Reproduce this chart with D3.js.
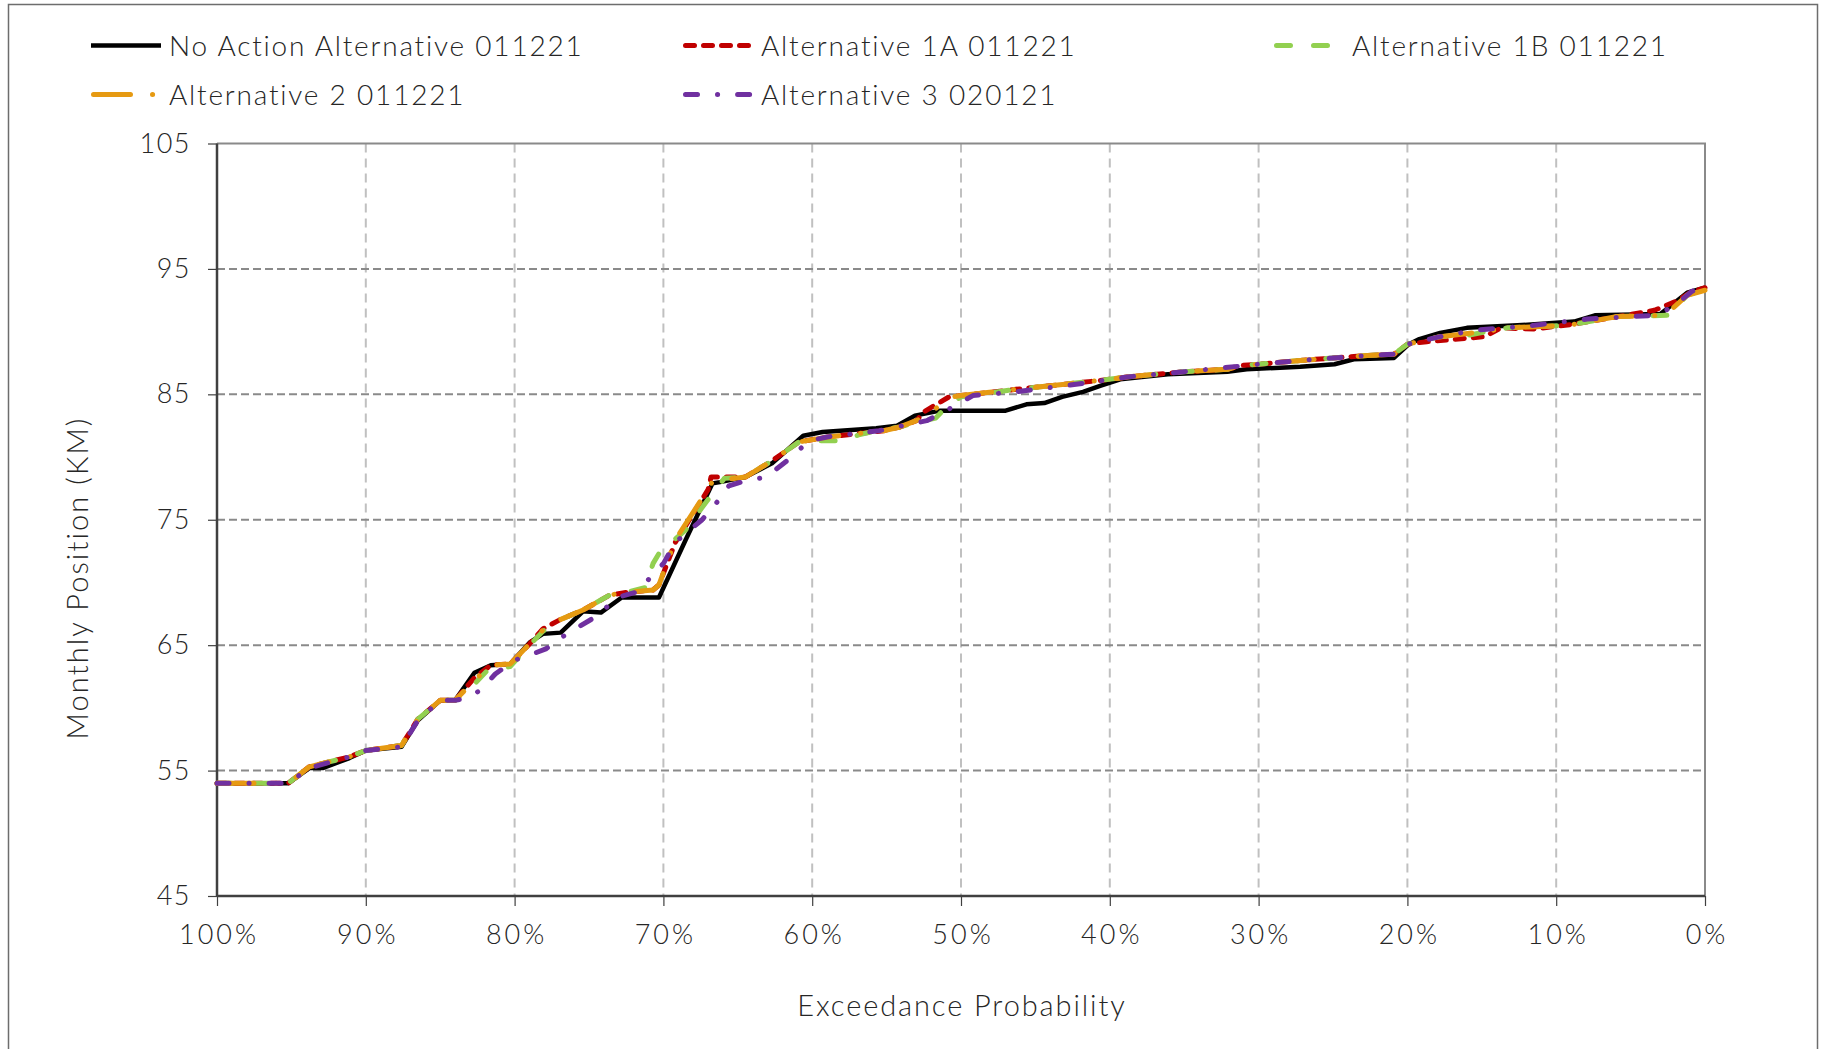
<!DOCTYPE html>
<html>
<head>
<meta charset="utf-8">
<script src="https://cdn.jsdelivr.net/npm/d3@7"></script>
<style>
  body { margin: 0; background: #fff; }
  svg text { font-family: Lato, "Noto Sans", sans-serif; font-weight: 300; fill: #262626; }
</style>
</head>
<body>
<svg id="chart" width="1830" height="1049"></svg>
<script>
// exceedance probability (%) and monthly position (km)
const noActionP = [100,95.2,93.8,92.9,91.1,90,87.6,86.5,85.0,84.0,82.7,81.6,80.3,79.0,78.1,76.9,75.4,74.2,72.8,70.3,68.5,66.7,66.2,64.5,62.7,60.6,59.3,55.7,54.3,53.1,51.4,47.0,45.6,44.4,43.2,41.8,40.6,39.3,36.1,32.1,30.8,27.2,24.9,23.6,20.9,19.9,19.2,17.8,16.0,12.6,8.8,7.4,3.0,1.2,0];
const noActionV = [54.0,54.0,55.2,55.2,56.0,56.6,56.9,59.0,60.6,60.6,62.8,63.4,63.5,65.2,65.9,66.0,67.7,67.6,68.8,68.8,73.4,77.9,78.0,78.4,79.5,81.7,82.0,82.3,82.5,83.3,83.7,83.7,84.2,84.3,84.8,85.2,85.7,86.2,86.6,86.8,87.0,87.2,87.4,87.8,87.9,89.0,89.4,89.9,90.3,90.5,90.8,91.3,91.4,93.1,93.5];

const alt1aP = [100,95.2,93.8,91.1,90,87.6,86.5,85.0,84.0,82.7,81.6,80.3,79.0,78.1,77.0,75.4,73.6,72.5,70.7,70.3,69.2,67.0,66.8,64.5,62.7,60.9,58.9,55.2,54.1,53.0,52.5,50.8,50.0,46.3,40.7,38.7,35.0,32.1,31.2,30.0,27.2,22.7,20.9,20.0,18.7,14.8,13.7,11.5,8.8,3.4,1.8,0.9,0];
const alt1aV = [54.0,54.0,55.3,56.1,56.6,57.0,59.1,60.6,60.6,62.4,63.4,63.5,65.1,66.3,67.0,67.8,69.0,69.2,69.4,69.8,73.2,77.4,78.4,78.4,79.7,81.2,81.6,82.1,82.4,82.9,83.6,84.8,84.9,85.4,86.1,86.4,86.8,87.0,87.3,87.4,87.7,88.1,88.2,89.0,89.2,89.6,90.3,90.2,90.6,91.7,92.5,93.2,93.5];

const alt1bP = [100,95.2,93.8,91.1,90,87.6,86.5,85.0,84.0,82.7,81.9,80.3,79.0,78.1,77.0,75.4,73.6,72.5,71.2,70.7,70.3,68.5,67.2,65.9,64.5,62.7,60.9,59.3,57.9,56.8,55.7,54.1,53.0,51.7,51.0,50.0,46.3,40.7,38.7,35.0,32.1,31.2,30.0,27.2,22.7,20.9,20.0,17.8,16.0,13.3,9.2,5.9,2.5,1.2,0];
const alt1bV = [54.0,54.0,55.3,56.1,56.6,57.0,59.1,60.6,60.6,61.9,62.9,63.3,65.0,66.1,67.0,67.8,69.0,69.2,69.6,71.5,72.3,74.2,76.3,78.3,78.4,79.7,81.2,81.3,81.3,81.8,82.1,82.4,82.8,83.1,84.0,84.8,85.4,86.1,86.4,86.8,87.0,87.3,87.4,87.7,88.1,88.2,89.0,89.6,89.7,90.3,90.5,91.2,91.3,92.9,93.4];

const alt2P = [100,95.2,93.8,91.1,90,87.6,86.5,85.0,84.0,82.7,81.6,80.3,79.0,78.1,77.0,75.4,73.6,72.5,70.7,70.3,69.2,66.9,66.7,64.5,62.7,60.9,58.9,55.2,54.1,53.0,51.9,50.6,50.0,46.3,40.7,38.7,35.0,32.1,31.2,30.0,27.2,22.7,20.9,20.0,17.8,14.8,13.3,9.2,5.9,2.7,1.2,0];
const alt2V = [54.0,54.0,55.3,56.1,56.6,57.0,59.1,60.6,60.6,62.2,63.4,63.5,65.1,66.2,67.0,67.8,69.0,69.2,69.4,69.8,73.4,77.6,78.1,78.4,79.7,81.2,81.6,82.1,82.4,82.9,83.7,84.8,84.9,85.4,86.1,86.4,86.8,87.0,87.3,87.4,87.7,88.1,88.2,89.0,89.6,90.0,90.3,90.5,91.2,91.3,92.9,93.3];

const alt3P = [100,95.2,93.8,91.1,90,87.6,86.5,85.0,84.0,83.2,82.3,81.3,80.0,79.0,77.9,76.5,74.5,73.1,71.6,70.7,70.0,69.2,68.1,67.4,66.4,65.6,64.5,63.1,61.8,60.2,59.0,55.5,54.3,52.3,51.0,50.1,49.2,46.3,42.9,38.7,35.0,30.0,27.2,22.7,20.9,20.0,17.8,15.5,11.5,7.9,3.4,2.1,0.9,0];
const alt3V = [54.0,54.0,55.2,56.1,56.6,56.9,59.0,60.6,60.6,60.8,61.4,62.7,63.8,64.2,64.7,65.9,67.3,68.8,69.3,70.7,71.5,73.2,74.3,75.0,76.4,77.7,78.1,78.4,79.6,81.3,81.6,82.1,82.4,82.9,83.7,84.3,84.9,85.2,85.7,86.4,86.8,87.4,87.7,88.1,88.2,89.0,89.6,90.1,90.5,91.0,91.3,92.0,93.2,93.7];

const seriesNames = ["No Action Alternative 011221", "Alternative 1A 011221", "Alternative 1B 011221", "Alternative 2 011221", "Alternative 3 020121"];
const seriesColors = ["#000000", "#c00000", "#92d050", "#e69a12", "#7030a0"];
const seriesDash = [null, "9,9", "14,23", "37,22,0.1,22", "12,20,0.1,20"];
const seriesP = [noActionP, alt1aP, alt1bP, alt2P, alt3P];
const seriesV = [noActionV, alt1aV, alt1bV, alt2V, alt3V];

const yTicks = [45, 55, 65, 75, 85, 95, 105];
const xTicks = [100, 90, 80, 70, 60, 50, 40, 30, 20, 10, 0];

const svg = d3.select('#chart');
const plotLeft = 217, plotRight = 1705, plotTop = 143.5, plotBottom = 896;

const x = d3.scaleLinear().domain([100, 0]).range([plotLeft, plotRight]);
const y = d3.scaleLinear().domain([45, 105]).range([plotBottom, plotTop]);

// outer frame
svg.append('rect')
    .attr('x', 8.5).attr('y', 4.5)
    .attr('width', 1809).attr('height', 1060)
    .attr('fill', 'none')
    .attr('stroke', '#6d6d6d')
    .attr('stroke-width', 1.5);

// gridlines
svg.append('g').selectAll('line')
    .data(xTicks.filter(d => d !== 100 && d !== 0))
    .enter().append('line')
    .attr('x1', d => x(d)).attr('x2', d => x(d))
    .attr('y1', plotTop).attr('y2', plotBottom)
    .attr('stroke', '#c0c0c0')
    .attr('stroke-width', 2)
    .attr('stroke-dasharray', '9,6');
svg.append('g').selectAll('line')
    .data(yTicks.filter(d => d !== 45 && d !== 105))
    .enter().append('line')
    .attr('x1', plotLeft).attr('x2', plotRight)
    .attr('y1', d => y(d)).attr('y2', d => y(d))
    .attr('stroke', '#8a8a8a')
    .attr('stroke-width', 2)
    .attr('stroke-dasharray', '8,4');

// top and right border of plot area
svg.append('path')
    .attr('d', `M${plotLeft},${plotTop}H${plotRight}V${plotBottom}`)
    .attr('fill', 'none')
    .attr('stroke', '#8a8a8a')
    .attr('stroke-width', 2);

// axes
const yAxis = svg.append('g')
    .attr('transform', `translate(${plotLeft},0)`)
    .call(d3.axisLeft(y).tickValues(yTicks).tickSize(9).tickPadding(17).tickFormat(d3.format('d')));
const xAxis = svg.append('g')
    .attr('transform', `translate(0,${plotBottom})`)
    .call(d3.axisBottom(x).tickValues(xTicks).tickSize(10).tickPadding(19).tickFormat(d => d + '%'));
[yAxis, xAxis].forEach(ax => {
    ax.select('.domain').attr('stroke', '#404040').attr('stroke-width', 2.5);
    ax.selectAll('.tick line').attr('stroke', '#404040').attr('stroke-width', 1.2);
    ax.selectAll('.tick text').attr('font-size', 27).attr('font-family', null).style('fill', '#262626');
});
yAxis.selectAll('.tick text').style('letter-spacing', '1.5px');
xAxis.selectAll('.tick text').style('letter-spacing', '3px').attr('dx', 1.5);
yAxis.select('.domain').attr('d', `M0,${plotBottom + 1}V${plotTop}`);
xAxis.select('.domain').attr('d', `M${plotLeft},0H${plotRight}`);

// series lines
const line = d3.line().x(d => x(d[0])).y(d => y(d[1]));
seriesNames.forEach((name, i) => {
    const pts = seriesP[i].map((p, j) => [p, seriesV[i][j]]);
    svg.append('path')
        .datum(pts)
        .attr('d', line)
        .attr('fill', 'none')
        .attr('stroke', seriesColors[i])
        .attr('stroke-width', i === 0 ? 4.5 : 5)
        .attr('stroke-linecap', i === 0 ? 'butt' : 'round')
        .attr('stroke-linejoin', 'round')
        .attr('stroke-dasharray', seriesDash[i]);
});

// legend
const legendPos = [[91, 45.5], [683, 45.5], [1274, 45.5], [91, 94.5], [683, 94.5]];
seriesNames.forEach((name, i) => {
    const [lx, ly] = legendPos[i];
    svg.append('line')
        .attr('x1', lx + (i === 0 ? 0 : 2.5)).attr('x2', lx + 70)
        .attr('y1', ly).attr('y2', ly)
        .attr('stroke', seriesColors[i])
        .attr('stroke-width', i === 0 ? 4.5 : 5)
        .attr('stroke-linecap', i === 0 ? 'butt' : 'round')
        .attr('stroke-dasharray', seriesDash[i]);
    svg.append('text')
        .attr('x', lx + 78).attr('y', ly)
        .attr('dy', '0.36em')
        .attr('font-size', 28)
        .style('letter-spacing', '1.8px')
        .text(name);
});

// axis titles
svg.append('text')
    .attr('x', (plotLeft + plotRight) / 2 + 1).attr('y', 1006)
    .attr('dy', '0.36em')
    .attr('text-anchor', 'middle')
    .attr('font-size', 29)
    .style('letter-spacing', '1.9px')
    .text('Exceedance Probability');
svg.append('text')
    .attr('transform', 'translate(78,578) rotate(-90)')
    .attr('dy', '0.36em')
    .attr('text-anchor', 'middle')
    .attr('font-size', 29)
    .style('letter-spacing', '2.1px')
    .text('Monthly Position (KM)');
</script>
</body>
</html>
